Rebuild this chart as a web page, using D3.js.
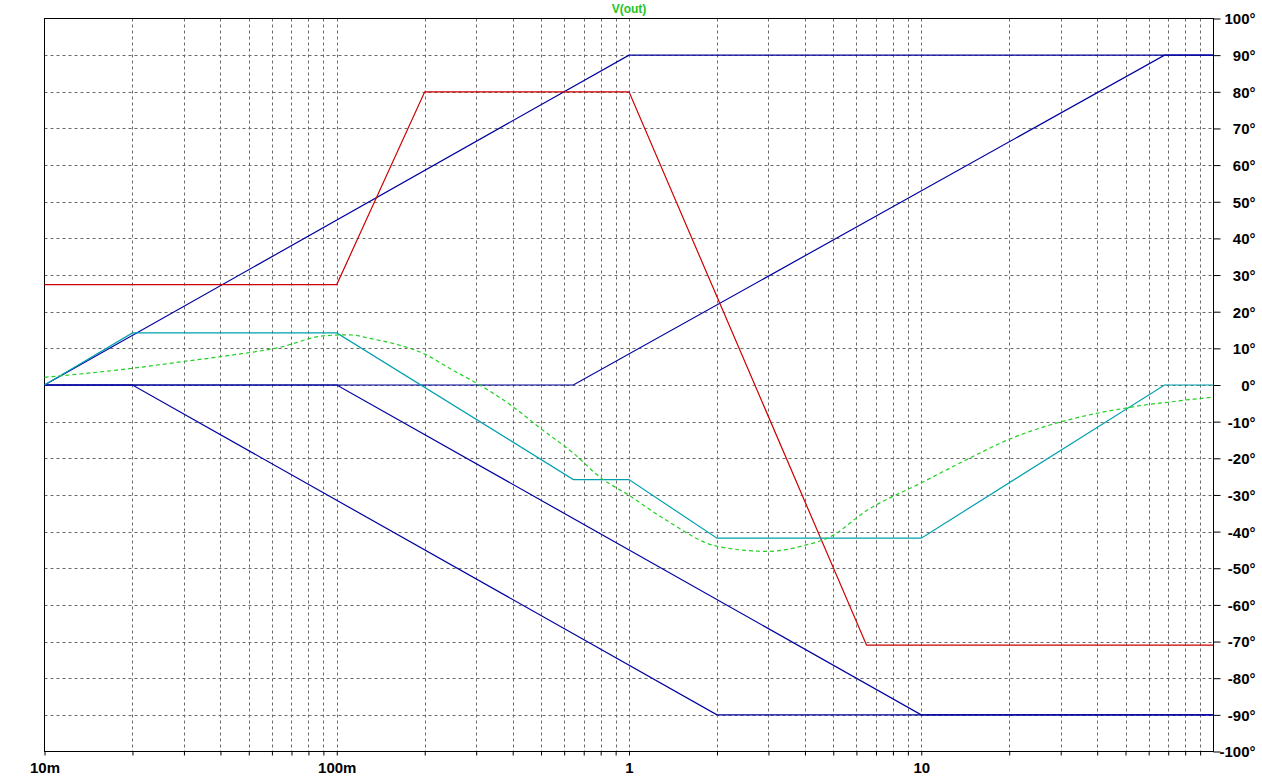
<!DOCTYPE html>
<html>
<head>
<meta charset="utf-8">
<script src="https://cdn.jsdelivr.net/npm/d3@7"></script>
<style>
  html, body { margin: 0; padding: 0; background: #fff; }
  svg { display: block; }
</style>
</head>
<body>
<svg id="chart" width="1262" height="777"></svg>
<script>
// ---- data (frequency in Hz, phase in degrees) ----
const title = "V(out)";
const xMajorTicks = [0.01, 0.1, 1, 10];
const xTickLabels = ["10m", "100m", "1", "10"];
const yTicks = [-100, -90, -80, -70, -60, -50, -40, -30, -20, -10, 0, 10, 20, 30, 40, 50, 60, 70, 80, 90, 100];

const blueA = [[0.01, 0], [1, 90], [100, 90]];
const blueB = [[0.01, 0], [0.645, 0], [68, 90], [100, 90]];
const blueC = [[0.01, 0], [0.02, 0], [2, -90], [100, -90]];
const blueD = [[0.01, 0], [0.1, 0], [10, -90], [100, -90]];
const redTrace = [[0.01, 27.4], [0.1, 27.4], [0.2, 80], [1, 80], [6.5, -71], [100, -71]];
const cyanTrace = [[0.01, 0], [0.02, 14.2], [0.1, 14.2], [0.645, -25.8], [1, -25.8], [2, -41.8], [10, -41.8], [68, 0], [100, 0]];
const greenTrace = [
  [0.01, 2.1], [0.0197, 4.5], [0.0298, 6.4], [0.0432, 8.1], [0.064, 10.3], [0.09, 13.4],
  [0.11, 13.7], [0.13, 12.7], [0.165, 10.8], [0.193, 9.0], [0.25, 4.0], [0.31, -0.1],
  [0.402, -6.0], [0.497, -11.8], [0.645, -18.6], [0.797, -25.2], [1, -30.1], [1.348, -37],
  [2, -44.0], [2.99, -45.4], [4.01, -43.7], [4.84, -41.6], [6.52, -34.2], [10, -26.7],
  [14.6, -20.0], [20, -14.8], [29.9, -10.1], [40, -7.7], [50, -6.3], [60, -5.3],
  [70, -4.7], [80, -4.1], [90, -3.7], [100, -3.3]
];

// ---- layout ----
const svg = d3.select("#chart");
const pL = 44.5, pR = 1213.5, pT = 18.5, pB = 751.5;
const x = d3.scaleLog().domain([0.01, 100]).range([pL, pR]);
const y = d3.scaleLinear().domain([-100, 100]).range([pB, pT]);

const gridColor = "#6a6a6a";
const labelFont = "'Liberation Sans Narrow', 'Arial Narrow', 'Liberation Sans', Arial, sans-serif";

// vertical grid values: 1..9 x each decade
const xGrid = [];
xMajorTicks.forEach(d => { for (let k = 1; k <= 9; k++) { const v = d * k; if (v > 0.01 * 1.0001 && v < 100 * 0.9999) xGrid.push(v); } });

const grid = svg.append("g");
grid.selectAll("line.v").data(xGrid).enter().append("line")
  .attr("x1", d => Math.round(x(d)) + 0.5).attr("x2", d => Math.round(x(d)) + 0.5)
  .attr("y1", pT).attr("y2", pB)
  .attr("stroke", gridColor).attr("stroke-width", 1).attr("stroke-dasharray", "3,3");
grid.selectAll("line.h").data(yTicks.filter(v => v > -100 && v < 100)).enter().append("line")
  .attr("x1", pL).attr("x2", pR)
  .attr("y1", d => Math.round(y(d)) + 0.5).attr("y2", d => Math.round(y(d)) + 0.5)
  .attr("stroke", gridColor).attr("stroke-width", 1).attr("stroke-dasharray", "3,3");

// frame
svg.append("rect").attr("x", pL).attr("y", pT).attr("width", pR - pL).attr("height", pB - pT)
  .attr("fill", "none").attr("stroke", "#000").attr("stroke-width", 1);

// bottom axis ticks
const xAxis = d3.axisBottom(x).tickValues(xGrid.concat([0.01]))
  .tickSize(4).tickFormat(d => { const i = xMajorTicks.indexOf(d); return i >= 0 ? xTickLabels[i] : ""; });
const gx = svg.append("g").attr("transform", `translate(0,${pB})`).call(xAxis);
gx.select(".domain").remove();
gx.selectAll(".tick line").attr("stroke", "#000");
gx.selectAll(".tick text").attr("dy", 0).attr("y", 21)
  .attr("font-family", labelFont).attr("font-weight", "bold").attr("font-size", 15).attr("fill", "#000");

// right axis
const yAxis = d3.axisRight(y).tickValues(yTicks).tickSize(7).tickFormat(d => d + "°");
const gy = svg.append("g").attr("transform", `translate(${pR},0)`).call(yAxis);
gy.select(".domain").remove();
gy.selectAll(".tick line").attr("stroke", "#000");
gy.selectAll(".tick text").attr("x", 42).attr("text-anchor", "end").attr("dy", "0.36em")
  .attr("font-family", labelFont).attr("font-weight", "bold").attr("font-size", 15).attr("fill", "#000");

// title
svg.append("text").attr("x", (pL + pR) / 2).attr("y", 13).attr("text-anchor", "middle")
  .attr("font-family", labelFont).attr("font-weight", "bold").attr("font-size", 12)
  .attr("fill", "#22c422").text(title);

// traces
const line = d3.line().x(d => x(d[0])).y(d => y(d[1]));
const smooth = d3.line().x(d => x(d[0])).y(d => y(d[1])).curve(d3.curveMonotoneX);
const traces = svg.append("g");
function draw(data, color, gen, dash) {
  const p = traces.append("path").datum(data).attr("d", gen).attr("fill", "none")
    .attr("stroke", color).attr("stroke-width", 1.2);
  if (dash) p.attr("stroke-dasharray", dash);
}
draw(blueA, "#0000a0", line);
draw(blueB, "#0000a0", line);
draw(blueC, "#0000a0", line);
draw(blueD, "#0000a0", line);
draw(redTrace, "#cc0000", line);
draw(cyanTrace, "#00a0b0", line);
draw(greenTrace, "#22d022", smooth, "4,3");
</script>
</body>
</html>
